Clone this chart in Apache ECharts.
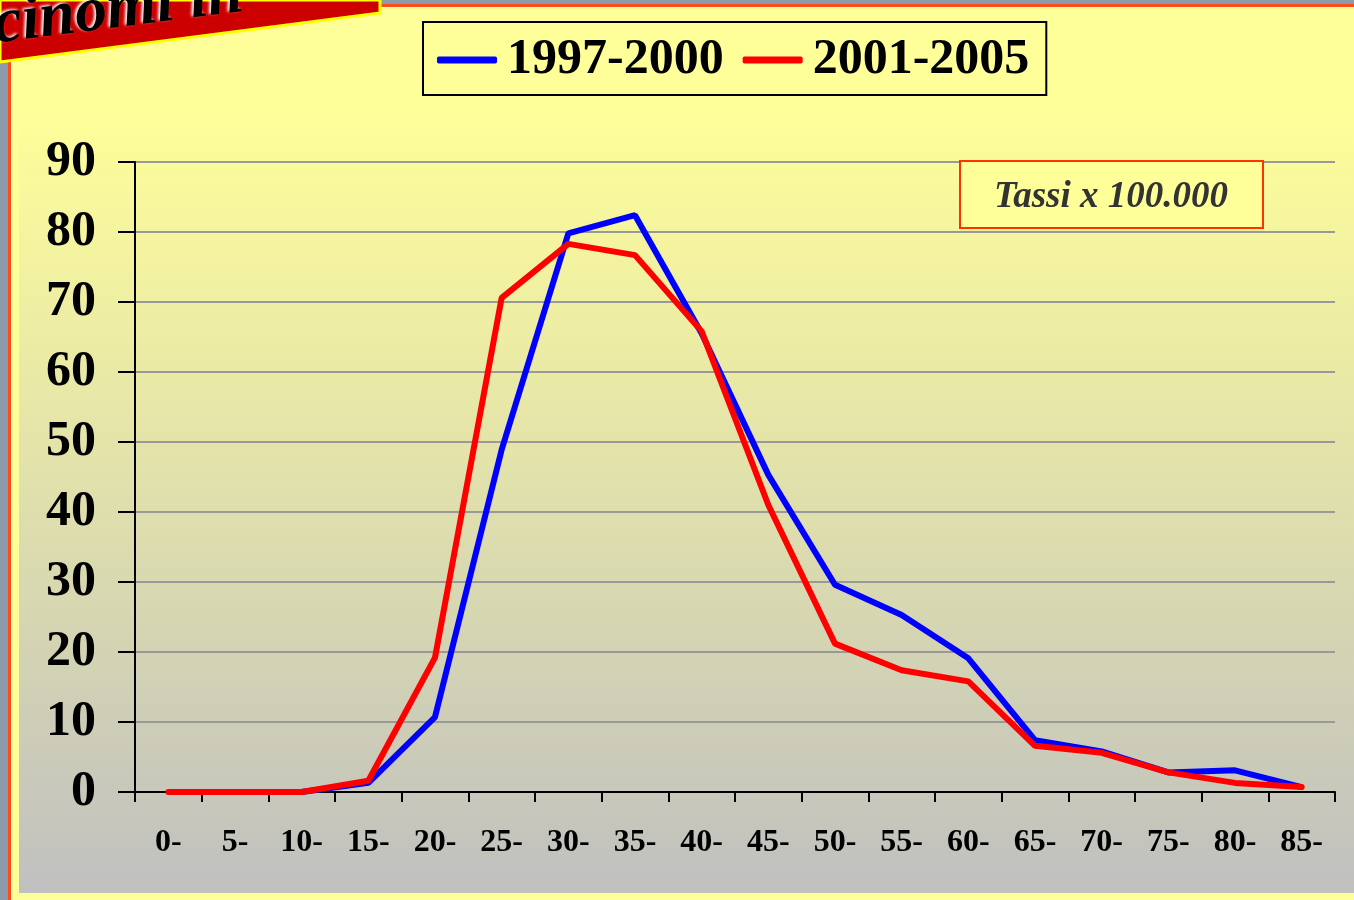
<!DOCTYPE html>
<html>
<head>
<meta charset="utf-8">
<script src="https://cdn.jsdelivr.net/npm/echarts@6/dist/echarts.min.js"></script>
<style>
html,body{margin:0;padding:0;background:#FFFF99;}
#chart{width:1354px;height:900px;}
</style>
</head>
<body>
<div id="chart"></div>
<script>
var categories = ['0-','5-','10-','15-','20-','25-','30-','35-','40-','45-','50-','55-','60-','65-','70-','75-','80-','85-'];
var series1997 = [0,0,0,1.3,10.7,48.9,79.8,82.4,65.5,45.3,29.6,25.3,19.1,7.4,5.8,2.8,3.1,0.7];
var series2001 = [0,0,0,1.6,19.2,70.6,78.3,76.7,65.8,41.0,21.2,17.4,15.8,6.6,5.6,2.8,1.3,0.7];
var seriesNames = ['1997-2000','2001-2005'];
var noteText = 'Tassi x 100.000';
var bannerText = 'cinomi in';

var chart = echarts.init(document.getElementById('chart'), null, {renderer:'canvas'});
var serif = '"Liberation Serif","DejaVu Serif",serif';
chart.setOption({
  backgroundColor:'#FFFF99',
  animation:false,
  graphic:[
    {type:'rect', z:-20, shape:{x:19,y:6,width:1335,height:887},
     style:{fill:new echarts.graphic.LinearGradient(0,0,0,1,[{offset:0,color:'#FFFF99'},{offset:0.11,color:'#FFFF99'},{offset:1,color:'#C0C0C0'}])}},
    {type:'rect', z:-19, shape:{x:0,y:0,width:8,height:900}, style:{fill:'#8C9AAA'}},
    {type:'rect', z:-19, shape:{x:8,y:0,width:3,height:900}, style:{fill:'#FF4A1A'}},
    {type:'rect', z:-19, shape:{x:0,y:0,width:1354,height:4}, style:{fill:'#8C9AAA'}},
    {type:'rect', z:-19, shape:{x:0,y:4,width:1354,height:3}, style:{fill:'#FF4A1A'}},
    {type:'polygon', z:50, shape:{points:[[0,0],[380,0],[380,13],[0,62]]},
     style:{fill:'#CC0000', stroke:'#FFFF00', lineWidth:3}},
    {type:'text', z:51, x:-2, y:58, rotation:0.128,
     style:{text:bannerText, font:'italic bold 64px '+serif, fill:'#000', textVerticalAlign:'bottom',
            textShadowColor:'#FFFFFF', textShadowBlur:3, textShadowOffsetX:-2, textShadowOffsetY:-1}},
    {type:'rect', z:20, shape:{x:960,y:161,width:303,height:67},
     style:{fill:'#FFFF99', stroke:'#FF3300', lineWidth:2}},
    {type:'text', z:21, x:1111, y:197,
     style:{text:noteText, font:'italic bold 37px '+serif, fill:'#333333', textAlign:'center', textVerticalAlign:'middle'}}
  ],
  legend:{
    left:423, top:22,
    padding:[13,17,10,14],
    itemGap:19,
    itemWidth:60, itemHeight:7,
    icon:'roundRect',
    borderColor:'#000', borderWidth:2,
    backgroundColor:'#FFFF99',
    textStyle:{fontFamily:serif, fontWeight:'bold', fontSize:50, color:'#000', padding:[0,0,0,5]},
    data:seriesNames
  },
  grid:{left:135, right:19, top:162, bottom:108, containLabel:false},
  xAxis:{
    type:'category', data:categories, boundaryGap:true,
    axisLine:{lineStyle:{color:'#000', width:2}},
    axisTick:{show:true, length:10, lineStyle:{color:'#000', width:2}},
    axisLabel:{fontFamily:serif, fontWeight:'bold', fontSize:32, color:'#000', margin:35, interval:0},
    splitLine:{show:false}
  },
  yAxis:{
    type:'value', min:0, max:90, interval:10,
    axisLine:{show:true, lineStyle:{color:'#000', width:2}},
    axisTick:{show:true, length:17, lineStyle:{color:'#000', width:2}},
    axisLabel:{fontFamily:serif, fontWeight:'bold', fontSize:50, color:'#000', margin:39},
    splitLine:{show:true, lineStyle:{color:'#999999', width:2}}
  },
  series:[
    {name:seriesNames[0], type:'line', data:series1997, symbol:'none', z:3,
     lineStyle:{color:'#0000FF', width:6}, itemStyle:{color:'#0000FF'}},
    {name:seriesNames[1], type:'line', data:series2001, symbol:'none', z:4,
     lineStyle:{color:'#FF0000', width:6, cap:'round'}, itemStyle:{color:'#FF0000'}}
  ]
});
</script>
</body>
</html>
